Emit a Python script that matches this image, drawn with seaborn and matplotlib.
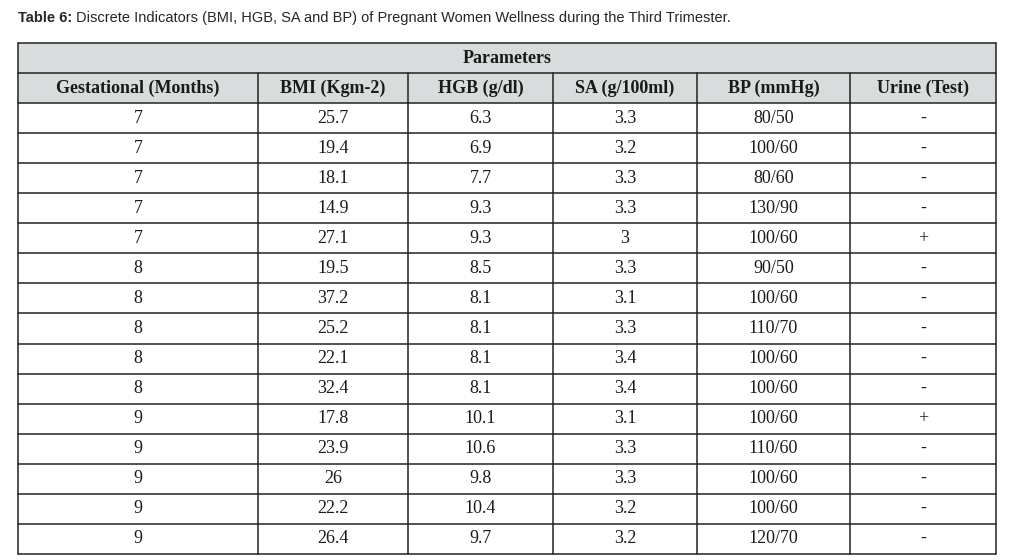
import matplotlib.pyplot as plt
import seaborn as sns
from matplotlib.patches import Rectangle

sns.set_style("white")

columns = ["Gestational (Months)", "BMI (Kgm-2)", "HGB (g/dl)", "SA (g/100ml)", "BP (mmHg)", "Urine (Test)"]
months = ["7", "7", "7", "7", "7", "8", "8", "8", "8", "8", "9", "9", "9", "9", "9"]
bmi = ["25.7", "19.4", "18.1", "14.9", "27.1", "19.5", "37.2", "25.2", "22.1", "32.4", "17.8", "23.9", "26", "22.2", "26.4"]
hgb = ["6.3", "6.9", "7.7", "9.3", "9.3", "8.5", "8.1", "8.1", "8.1", "8.1", "10.1", "10.6", "9.8", "10.4", "9.7"]
sa = ["3.3", "3.2", "3.3", "3.3", "3", "3.3", "3.1", "3.3", "3.4", "3.4", "3.1", "3.3", "3.3", "3.2", "3.2"]
bp = ["80/50", "100/60", "80/60", "130/90", "100/60", "90/50", "100/60", "110/70", "100/60", "100/60",
      "100/60", "110/60", "100/60", "100/60", "120/70"]
urine = ["-", "-", "-", "-", "+", "-", "-", "-", "-", "-", "+", "-", "-", "-", "-"]

col_x = [18, 258, 408, 553, 697, 850, 996]
top = 43
row_h = 30.05
header_color = "#d9dcdc"
serif = "Liberation Serif"

fig = plt.figure(figsize=(10.36, 5.6), dpi=100)
ax = fig.add_axes([0, 0, 1, 1])
ax.set_xlim(0, 1036)
ax.set_ylim(560, 0)
ax.axis("off")

fig.text(18 / 1036, 1 - 18 / 560, "Table 6:", fontsize=10.5, fontweight="bold",
         family="Liberation Sans", va="center", ha="left")
fig.text(76 / 1036, 1 - 18 / 560,
         "Discrete Indicators (BMI, HGB, SA and BP) of Pregnant Women Wellness during the Third Trimester.",
         fontsize=10.5, family="Liberation Sans", va="center", ha="left")

# header background
ax.add_patch(Rectangle((col_x[0], top), col_x[-1] - col_x[0], 2 * row_h, color=header_color, lw=0))
ax.text((col_x[0] + col_x[-1]) / 2, top + row_h / 2, "Parameters", ha="center", va="center",
        fontsize=13, fontweight="bold", family=serif, color="#1a1a1a")
for i, name in enumerate(columns):
    ax.text((col_x[i] + col_x[i + 1]) / 2, top + 1.5 * row_h, name, ha="center", va="center",
            fontsize=13, fontweight="bold", family=serif, color="#1a1a1a")

rows = list(zip(months, bmi, hgb, sa, bp, urine))
for r, row in enumerate(rows):
    yc = top + (r + 2.5) * row_h
    for i, val in enumerate(row):
        ax.text((col_x[i] + col_x[i + 1]) / 2, yc, val, ha="center", va="center",
                fontsize=13, family=serif, color="#1a1a1a")

n_rows = len(rows) + 2
bottom = top + n_rows * row_h
for k in range(n_rows + 1):
    y = top + k * row_h
    ax.plot([col_x[0], col_x[-1]], [y, y], color="#222222", lw=1.1)
for i, x in enumerate(col_x):
    y0 = top if i in (0, len(col_x) - 1) else top + row_h
    ax.plot([x, x], [y0, bottom], color="#222222", lw=1.1)

fig.savefig("out.png", dpi=100, facecolor="white")
